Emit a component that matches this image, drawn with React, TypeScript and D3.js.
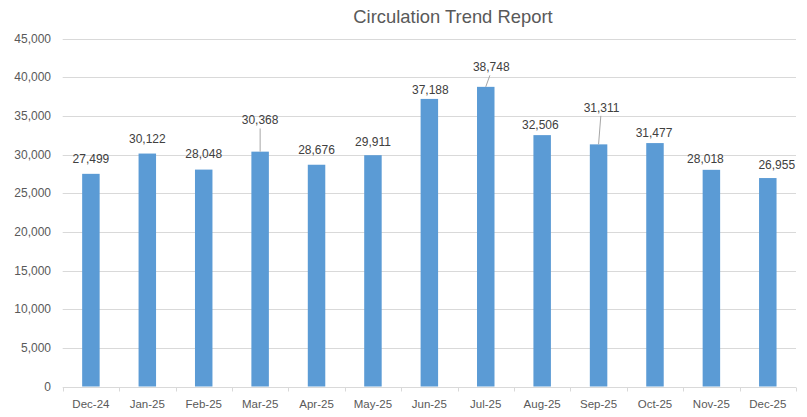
import React, { useEffect, useRef } from 'react';
import * as d3 from 'd3';

const months = ['Dec-24', 'Jan-25', 'Feb-25', 'Mar-25', 'Apr-25', 'May-25', 'Jun-25', 'Jul-25', 'Aug-25', 'Sep-25', 'Oct-25', 'Nov-25', 'Dec-25'];
const circulation = [27499, 30122, 28048, 30368, 28676, 29911, 37188, 38748, 32506, 31311, 31477, 28018, 26955];
const yTicks = [0, 5000, 10000, 15000, 20000, 25000, 30000, 35000, 40000, 45000];

// label placement relative to the bar top (Excel labels were nudged by hand)
const labelDx = [0, 0, 0, 0, 0, 0, 1, 5.5, -1.8, 3, -1, -6, 9];
const labelDy = [-14.7, -14.7, -15.3, -31.7, -14.7, -13.3, -9, -20, -10.7, -37, -10.7, -11, -13.7];
const leaders = [3, 7, 9];

const App = () => {
  const ref = useRef<SVGSVGElement>(null);

  useEffect(() => {
    const width = 807;
    const height = 417;
    const margin = { top: 38.5, right: 11, bottom: 30.5, left: 62.7 };
    const font = '"Liberation Sans", Arial, sans-serif';
    const textColor = '#595959';

    const svg = d3.select(ref.current);
    svg.selectAll('*').remove();
    svg.attr('width', width).attr('height', height).style('background', '#fff');

    const x = d3.scaleBand()
      .domain(months)
      .range([margin.left, width - margin.right])
      .paddingInner(0.69)
      .paddingOuter(0.345);
    const band = d3.scaleBand().domain(months).range([margin.left, width - margin.right]);

    const y = d3.scaleLinear()
      .domain([0, 45000])
      .range([height - margin.bottom, margin.top]);

    svg.append('text')
      .attr('x', 453)
      .attr('y', 23)
      .attr('text-anchor', 'middle')
      .attr('font-family', font)
      .attr('font-size', 18.4)
      .attr('fill', textColor)
      .text('Circulation Trend Report');

    // gridlines
    svg.append('g')
      .selectAll('line')
      .data(yTicks.filter(d => d > 0))
      .enter()
      .append('line')
      .attr('x1', margin.left)
      .attr('x2', width - margin.right)
      .attr('y1', d => Math.round(y(d)) + 0.5)
      .attr('y2', d => Math.round(y(d)) + 0.5)
      .attr('stroke', '#d9d9d9');

    // y labels
    svg.append('g')
      .selectAll('text')
      .data(yTicks)
      .enter()
      .append('text')
      .attr('x', 51)
      .attr('y', d => y(d))
      .attr('dy', '0.35em')
      .attr('text-anchor', 'end')
      .attr('font-family', font)
      .attr('font-size', 12)
      .attr('fill', textColor)
      .text(d => d3.format(',')(d));

    // bars
    svg.append('g')
      .selectAll('rect')
      .data(circulation)
      .enter()
      .append('rect')
      .attr('x', (d, i) => x(months[i]))
      .attr('y', d => y(d))
      .attr('width', x.bandwidth())
      .attr('height', d => y(0) - y(d))
      .attr('fill', '#5b9bd5');

    // baseline + category ticks
    const base = Math.round(y(0)) + 0.5;
    svg.append('line')
      .attr('x1', margin.left)
      .attr('x2', width - margin.right)
      .attr('y1', base)
      .attr('y2', base)
      .attr('stroke', '#d9d9d9');
    const edges = months.map(m => band(m)).concat([width - margin.right]);
    svg.append('g')
      .selectAll('line')
      .data(edges)
      .enter()
      .append('line')
      .attr('x1', d => Math.round(d) + 0.5)
      .attr('x2', d => Math.round(d) + 0.5)
      .attr('y1', base)
      .attr('y2', base + 4)
      .attr('stroke', '#d9d9d9');

    // x labels
    svg.append('g')
      .selectAll('text')
      .data(months)
      .enter()
      .append('text')
      .attr('x', d => band(d) + band.bandwidth() / 2)
      .attr('y', 404)
      .attr('dy', '0.35em')
      .attr('text-anchor', 'middle')
      .attr('font-family', font)
      .attr('font-size', 11.5)
      .attr('fill', textColor)
      .text(d => d);

    const cx = (i: number) => x(months[i]) + x.bandwidth() / 2;

    // leader lines
    svg.append('g')
      .selectAll('line')
      .data(leaders)
      .enter()
      .append('line')
      .attr('x1', i => cx(i))
      .attr('y1', i => y(circulation[i]))
      .attr('x2', i => cx(i) + labelDx[i] * 0.75)
      .attr('y2', i => y(circulation[i]) + labelDy[i] + 8.5)
      .attr('stroke', '#a6a6a6')
      .attr('stroke-width', 1);

    // data labels
    svg.append('g')
      .selectAll('text')
      .data(circulation)
      .enter()
      .append('text')
      .attr('x', (d, i) => cx(i) + labelDx[i])
      .attr('y', (d, i) => y(d) + labelDy[i])
      .attr('dy', '0.35em')
      .attr('text-anchor', 'middle')
      .attr('font-family', font)
      .attr('font-size', 12)
      .attr('fill', '#404040')
      .text(d => d3.format(',')(d));
  }, []);

  return <svg ref={ref} style={{ display: 'block', position: 'absolute', left: 0, top: 0 }}></svg>;
};

export default App;
